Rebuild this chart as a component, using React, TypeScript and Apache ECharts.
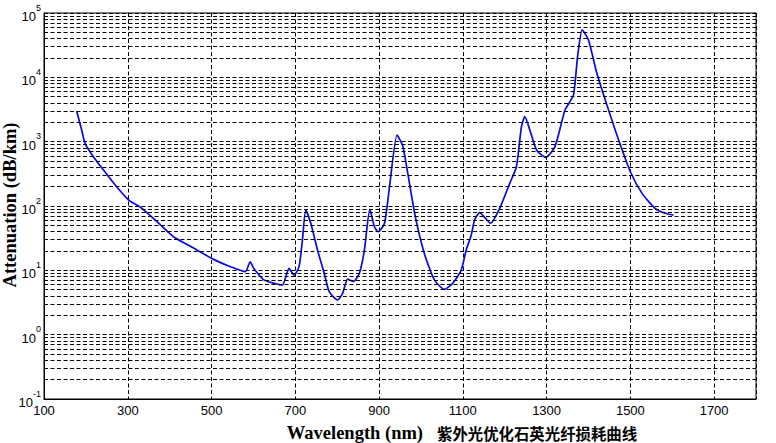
import React, { useEffect, useRef } from "react";
import * as echarts from "echarts";

const wavelength = [
  178, 190, 198, 218, 242, 270, 302, 334, 378, 410, 458, 505, 545, 581, 592,
  601, 625, 649, 669, 685, 697, 709, 717, 725, 737, 753, 769, 781, 801, 813,
  825, 839, 853, 865, 878, 889, 898, 913, 925, 943, 957, 985, 1008, 1032,
  1056, 1076, 1096, 1108, 1120, 1128, 1140, 1166, 1188, 1212, 1228, 1240,
  1248, 1260, 1276, 1298, 1320, 1344, 1364, 1374, 1385, 1400, 1420, 1448,
  1472, 1500, 1528, 1559, 1583, 1603,
];

const attenuation = [
  3000, 1518, 943, 583, 362, 212, 124, 92, 51, 33, 22, 14.8, 11.4, 9.5, 13.6,
  10.7, 7.1, 6.3, 5.9, 10.7, 8.4, 11.4, 29.6, 86.7, 54, 20.7, 9, 4.66, 3.46,
  4.4, 7.3, 6.7, 9, 20.7, 88.8, 47.6, 39.8, 54, 200, 1270, 836, 77, 18.4, 7.1,
  5.07, 6.3, 10, 20.7, 35, 60.5, 79, 54, 92, 225, 408, 1710, 2445, 1518, 742,
  571, 836, 3100, 5300, 21000, 54500, 38000, 11600, 3100, 1060, 341, 157, 92,
  77, 72,
];

// decades and in-between multipliers for the log grid
const decades = [-1, 0, 1, 2, 3, 4];
const minorSteps = [2, 3, 4, 5, 6, 7, 8, 9];

const xTitle = "Wavelength (nm)";
const cnTitle = "紫外光优化石英光纤损耗曲线";
const yTitle = "Attenuation (dB/km)";

const dash = [4, 2.5];

const App = () => {
  const chartRef = useRef<HTMLDivElement>(null);

  useEffect(() => {
    if (!chartRef.current) return;
    document.body.style.margin = "0";

    const chart = echarts.init(chartRef.current, undefined, { renderer: "svg" });

    const minorLines: { yAxis: number }[] = [];
    decades.forEach((k) => {
      minorSteps.forEach((m) => minorLines.push({ yAxis: m * Math.pow(10, k) }));
    });

    const option: echarts.EChartsOption = {
      animation: false,
      backgroundColor: "#ffffff",
      grid: {
        left: 44,
        right: 20,
        top: 13,
        bottom: 44,
        show: true,
        borderColor: "#000",
        borderWidth: 1,
        backgroundColor: "transparent",
      },
      xAxis: {
        type: "value",
        min: 100,
        max: 1800,
        interval: 200,
        axisLine: { show: true, lineStyle: { color: "#000", width: 1 } },
        axisTick: { show: false },
        axisLabel: {
          color: "#000",
          fontFamily: "Liberation Sans, Arial, sans-serif",
          fontSize: 13,
          margin: 5,
          showMaxLabel: false,
          formatter: (v: number) => String(v),
        },
        splitLine: {
          show: true,
          lineStyle: { color: "#000", type: dash, width: 1 },
        },
      },
      yAxis: {
        type: "log",
        logBase: 10,
        min: 0.1,
        max: 100000,
        axisLine: { show: true, lineStyle: { color: "#000", width: 1 } },
        axisTick: { show: false },
        axisLabel: {
          margin: 3,
          formatter: (v: number) => `{b|10}{s|${Math.round(Math.log10(v))}}`,
          rich: {
            b: {
              fontSize: 13,
              color: "#000",
              fontFamily: "Liberation Sans, Arial, sans-serif",
              verticalAlign: "bottom",
              lineHeight: 20,
            },
            s: {
              fontSize: 9,
              color: "#000",
              fontFamily: "Liberation Sans, Arial, sans-serif",
              verticalAlign: "top",
              lineHeight: 20,
            },
          },
        },
        splitLine: {
          show: true,
          lineStyle: { color: "#000", type: dash, width: 1 },
        },
      },
      series: [
        {
          type: "line",
          data: wavelength.map((w, i) => [w, attenuation[i]]),
          showSymbol: false,
          smooth: 0.2,
          lineStyle: { color: "#0a0ae0", width: 1.7 },
          markLine: {
            silent: true,
            symbol: "none",
            label: { show: false },
            lineStyle: { color: "#000", type: dash, width: 1 },
            data: minorLines,
          },
        },
      ],
      graphic: [
        {
          type: "text",
          x: 423,
          y: 433,
          style: {
            text: xTitle,
            font: "bold 18.5px 'Liberation Serif', serif",
            fill: "#000",
            align: "right",
            verticalAlign: "middle",
          },
        },
        {
          type: "text",
          left: 437,
          top: 425,
          style: {
            text: cnTitle,
            font: "bold 15.4px 'Noto Sans CJK SC', sans-serif",
            fill: "#000",
          },
        },
        {
          type: "text",
          x: 10,
          y: 205,
          rotation: Math.PI / 2,
          style: {
            text: yTitle,
            font: "bold 18.5px 'Liberation Serif', serif",
            fill: "#000",
            align: "center",
            verticalAlign: "middle",
          },
        },
      ],
    };

    chart.setOption(option);

    return () => {
      chart.dispose();
    };
  }, []);

  return <div ref={chartRef} style={{ width: 776, height: 443 }} />;
};

export default App;
